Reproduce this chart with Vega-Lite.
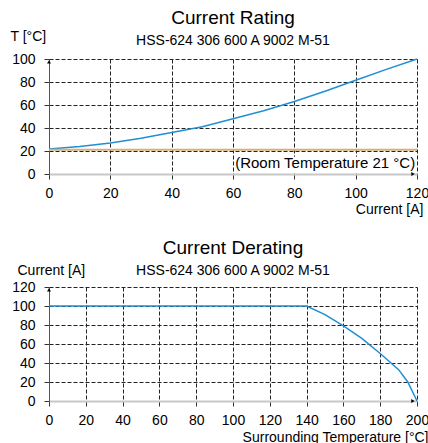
{
  "$schema": "https://vega.github.io/schema/vega-lite/v6.json",
  "padding": {"left": 10, "top": 9, "right": 0, "bottom": 0},
  "spacing": 23,
  "config": {
    "font": "Liberation Sans",
    "view": {"stroke": null},
    "title": {"font": "Liberation Sans", "fontSize": 19, "fontWeight": "normal", "color": "#000", "subtitleFont": "Liberation Sans", "subtitleFontSize": 14, "subtitleColor": "#000", "subtitlePadding": 6, "frame": "group", "anchor": "middle"},
    "axis": {"labelFont": "Liberation Sans", "labelFontSize": 14, "labelColor": "#000", "labelFlush": false, "labelOverlap": false, "titleFont": "Liberation Sans", "titleFontSize": 14, "titleFontWeight": "normal", "titleColor": "#000", "gridColor": "#222", "gridDash": [4, 2], "gridWidth": 1, "tickColor": "#333", "tickSize": 5},
    "axisX": {"domainColor": "#c8c8c8", "domainWidth": 2, "labelPadding": 7, "titleAlign": "right", "titleBaseline": "alphabetic"},
    "axisY": {"domainColor": "#555", "domainWidth": 1, "labelPadding": 9, "titleAngle": 0, "titleAlign": "left", "titleBaseline": "alphabetic"}
  },
  "datasets": {
    "rating": [
      {"current": 0, "temp": 21.7},
      {"current": 10, "temp": 24},
      {"current": 20, "temp": 27},
      {"current": 30, "temp": 31},
      {"current": 40, "temp": 36},
      {"current": 50, "temp": 41},
      {"current": 60, "temp": 48},
      {"current": 70, "temp": 55},
      {"current": 80, "temp": 63},
      {"current": 90, "temp": 72},
      {"current": 100, "temp": 81.5},
      {"current": 110, "temp": 91},
      {"current": 120, "temp": 100}
    ],
    "room": [
      {"room_temp": 21, "label": "(Room Temperature 21 °C)"}
    ],
    "derating": [
      {"surr_temp": 0, "current": 100},
      {"surr_temp": 140, "current": 100},
      {"surr_temp": 150, "current": 91},
      {"surr_temp": 160, "current": 79},
      {"surr_temp": 170, "current": 66},
      {"surr_temp": 180, "current": 50},
      {"surr_temp": 190, "current": 33},
      {"surr_temp": 195, "current": 20},
      {"surr_temp": 200, "current": 0}
    ]
  },
  "vconcat": [
    {
      "title": {"text": "Current Rating", "subtitle": "HSS-624 306 600 A 9002 M-51", "offset": -19},
      "width": 368,
      "height": 115,
      "layer": [
        {
          "data": {"name": "rating"},
          "mark": {"type": "line", "color": "#1f8fd4", "strokeWidth": 1.5},
          "encoding": {
            "x": {"field": "current", "type": "quantitative", "scale": {"domain": [0, 120], "nice": false}, "axis": {"title": "Current [A]", "values": [0, 20, 40, 60, 80, 100, 120], "titleX": 374, "titleY": 39}},
            "y": {"field": "temp", "type": "quantitative", "scale": {"domain": [0, 100], "nice": false}, "axis": {"title": "T [°C]", "values": [0, 20, 40, 60, 80, 100], "titleX": -39, "titleY": -19}}
          }
        },
        {
          "data": {"name": "room"},
          "mark": {"type": "rule", "color": "#d6b07a", "strokeWidth": 2},
          "encoding": {"y": {"field": "room_temp", "type": "quantitative", "axis": {"title": "T [°C]", "values": [0, 20, 40, 60, 80, 100], "titleX": -39, "titleY": -19}}}
        },
        {
          "data": {"name": "room"},
          "mark": {"type": "rect", "fill": "white"},
          "encoding": {
            "x": {"datum": 61, "axis": {"title": "Current [A]", "values": [0, 20, 40, 60, 80, 100, 120], "titleX": 374, "titleY": 39}},
            "x2": {"datum": 119.6},
            "y": {"datum": 1.5, "axis": {"title": "T [°C]", "values": [0, 20, 40, 60, 80, 100], "titleX": -39, "titleY": -19}},
            "y2": {"datum": 15}
          }
        },
        {
          "data": {"name": "room"},
          "mark": {"type": "text", "align": "right", "baseline": "alphabetic", "fontSize": 15, "color": "#000"},
          "encoding": {
            "x": {"datum": 119.4, "axis": {"title": "Current [A]", "values": [0, 20, 40, 60, 80, 100, 120], "titleX": 374, "titleY": 39}},
            "y": {"datum": 5, "axis": {"title": "T [°C]", "values": [0, 20, 40, 60, 80, 100], "titleX": -39, "titleY": -19}},
            "text": {"field": "label"}
          }
        },
        {
          "data": {"name": "room"},
          "mark": {"type": "point", "shape": "triangle-up", "size": 16, "filled": true, "color": "#000", "opacity": 1},
          "encoding": {
            "x": {"datum": 0, "axis": {"title": "Current [A]", "values": [0, 20, 40, 60, 80, 100, 120], "titleX": 374, "titleY": 39}},
            "y": {"datum": 97.5, "axis": {"title": "T [°C]", "values": [0, 20, 40, 60, 80, 100], "titleX": -39, "titleY": -19}}
          }
        },
        {
          "data": {"name": "room"},
          "mark": {"type": "point", "shape": "triangle-right", "size": 16, "filled": true, "color": "#000", "opacity": 1},
          "encoding": {
            "x": {"datum": 118.7, "axis": {"title": "Current [A]", "values": [0, 20, 40, 60, 80, 100, 120], "titleX": 374, "titleY": 39}},
            "y": {"datum": 0, "axis": {"title": "T [°C]", "values": [0, 20, 40, 60, 80, 100], "titleX": -39, "titleY": -19}}
          }
        }
      ]
    },
    {
      "title": {"text": "Current Derating", "subtitle": "HSS-624 306 600 A 9002 M-51", "offset": -15},
      "width": 368,
      "height": 114,
      "layer": [
        {
          "data": {"name": "derating"},
          "mark": {"type": "line", "color": "#1f8fd4", "strokeWidth": 1.5},
          "encoding": {
            "x": {"field": "surr_temp", "type": "quantitative", "scale": {"domain": [0, 200], "nice": false}, "axis": {"title": "Surrounding Temperature [°C]", "values": [0, 20, 40, 60, 80, 100, 120, 140, 160, 180, 200], "titleX": 379, "titleY": 40}},
            "y": {"field": "current", "type": "quantitative", "scale": {"domain": [0, 120], "nice": false}, "axis": {"title": "Current [A]", "values": [0, 20, 40, 60, 80, 100, 120], "titleX": -32, "titleY": -13}}
          }
        },
        {
          "data": {"name": "room"},
          "mark": {"type": "point", "shape": "triangle-up", "size": 16, "filled": true, "color": "#000", "opacity": 1},
          "encoding": {
            "x": {"datum": 0, "axis": {"title": "Surrounding Temperature [°C]", "values": [0, 20, 40, 60, 80, 100, 120, 140, 160, 180, 200], "titleX": 379, "titleY": 40}},
            "y": {"datum": 117, "axis": {"title": "Current [A]", "values": [0, 20, 40, 60, 80, 100, 120], "titleX": -32, "titleY": -13}}
          }
        },
        {
          "data": {"name": "room"},
          "mark": {"type": "point", "shape": "triangle-right", "size": 16, "filled": true, "color": "#000", "opacity": 1},
          "encoding": {
            "x": {"datum": 197.8, "axis": {"title": "Surrounding Temperature [°C]", "values": [0, 20, 40, 60, 80, 100, 120, 140, 160, 180, 200], "titleX": 379, "titleY": 40}},
            "y": {"datum": 0, "axis": {"title": "Current [A]", "values": [0, 20, 40, 60, 80, 100, 120], "titleX": -32, "titleY": -13}}
          }
        }
      ]
    }
  ]
}
